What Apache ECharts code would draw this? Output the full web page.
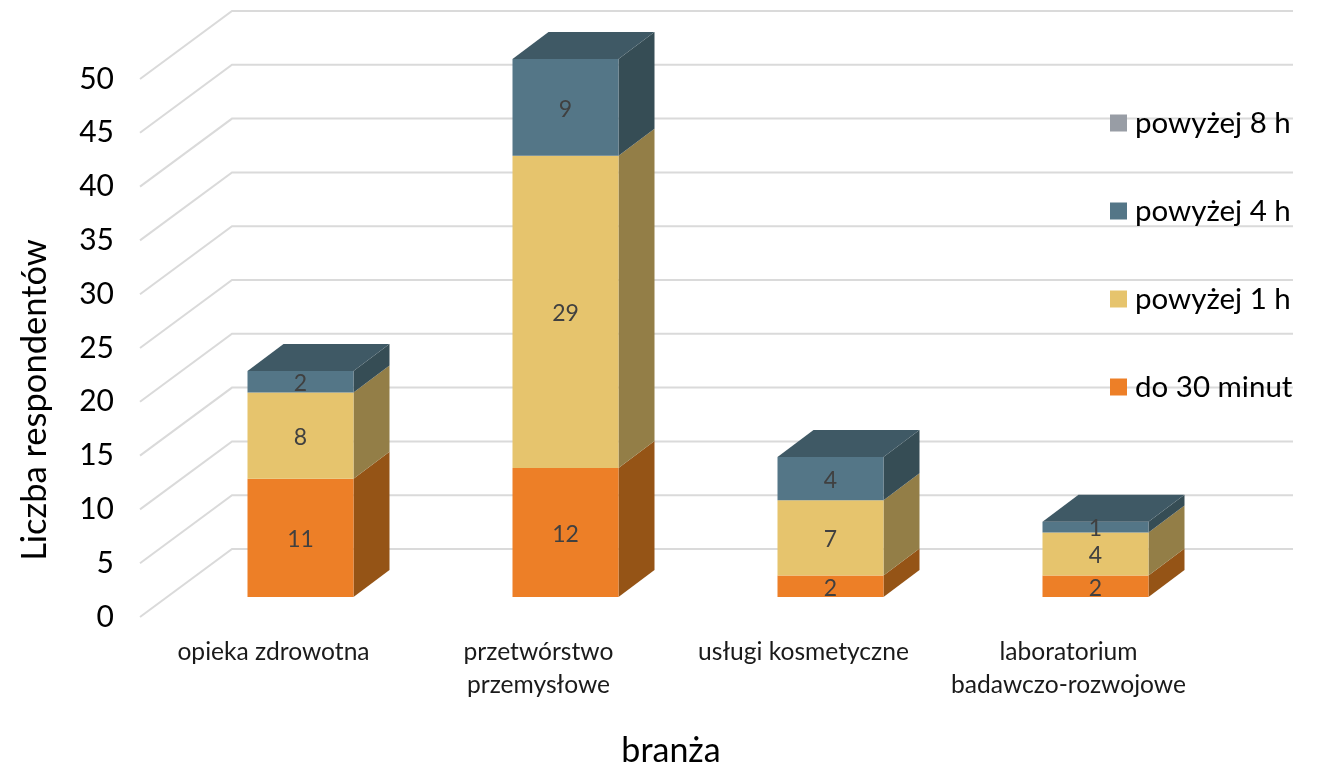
<!DOCTYPE html>
<html><head><meta charset="utf-8">
<style>html,body{margin:0;padding:0;background:#fff}#c{width:1319px;height:766px}</style>
<script src="https://cdn.jsdelivr.net/npm/echarts@6/dist/echarts.min.js"></script>
</head><body><div id="c"></div>
<script>
const categories = ['opieka zdrowotna', 'przetwórstwo\nprzemysłowe', 'usługi kosmetyczne', 'laboratorium\nbadawczo-rozwojowe'];
const seriesNames = ['do 30 minut', 'powyżej 1 h', 'powyżej 4 h', 'powyżej 8 h'];
const do30 = [11, 12, 2, 2];
const pow1 = [8, 29, 7, 4];
const pow4 = [2, 9, 4, 1];
const pow8 = [0, 0, 0, 0];
const gridTicks = [0, 5, 10, 15, 20, 25, 30, 35, 40, 45, 50];
const fontName = 'Lato';

const allValues = [do30, pow1, pow4, pow8];
const front = ['#ED7F27', '#E6C46D', '#547687', '#989DA5'];
const side = ['#955416', '#937E47', '#364D55', '#5F6368'];
const topFace = ['#B86218', '#B39850', '#3F5965', '#75797F'];

const WALL_DX = 92, WALL_DY = -68, GRID_END = 1293;
const BAR_DX = 36, BAR_DY = -27, BAR_W = 106, BAR_SHIFT_X = 27, BAR_SHIFT_Y = -20;
const LABEL_NUDGE_Y = 2;

const chart = echarts.init(document.getElementById('c'), null, {renderer: 'canvas'});

function wallItem(params, api) {
  const p = api.coord([0, api.value(0)]);
  const x0 = params.coordSys.x;
  return {
    type: 'polyline',
    shape: {points: [[x0 - 1, p[1]], [x0 - 1 + WALL_DX, p[1] + WALL_DY], [GRID_END, p[1] + WALL_DY]]},
    style: {stroke: '#DADADA', lineWidth: 2, fill: null}
  };
}

function barRender(si) {
  return function (params, api) {
    const cat = api.value(0), lo = api.value(1), hi = api.value(2);
    if (hi <= lo) return {type: 'group', children: []};
    const a = api.coord([cat, lo]), b = api.coord([cat, hi]);
    const l = a[0] + BAR_SHIFT_X - BAR_W / 2, r = l + BAR_W;
    const yb = a[1] + BAR_SHIFT_Y, yt = b[1] + BAR_SHIFT_Y;
    const isTop = allValues.slice(si + 1).every(s => s[cat] === 0);
    const children = [
      {type: 'polygon', shape: {points: [[r, yb], [r + BAR_DX, yb + BAR_DY], [r + BAR_DX, yt + BAR_DY], [r, yt]]}, style: {fill: side[si]}},
      {type: 'rect', shape: {x: l, y: yt, width: BAR_W, height: yb - yt}, style: {fill: front[si]}}
    ];
    if (isTop) children.push({type: 'polygon', shape: {points: [[l, yt], [l + BAR_DX, yt + BAR_DY], [r + BAR_DX, yt + BAR_DY], [r, yt]]}, style: {fill: topFace[si]}});
    children.push({type: 'text', z2: 10, style: {x: (l + r) / 2, y: (yb + yt) / 2 + LABEL_NUDGE_Y, text: String(hi - lo), fill: '#404040', font: '23px "' + fontName + '"', align: 'center', verticalAlign: 'middle'}});
    return {type: 'group', children};
  };
}

const barSeries = seriesNames.map((name, si) => ({
  type: 'custom', name, z: 3 + si, silent: true, animation: false,
  coordinateSystem: 'cartesian2d',
  itemStyle: {color: front[si]},
  encode: {x: 0, y: [1, 2]},
  renderItem: barRender(si),
  data: categories.map((c, i) => {
    let base = 0;
    for (let k = 0; k < si; k++) base += allValues[k][i];
    return [i, base, base + allValues[si][i]];
  })
}));

chart.setOption({
  animation: false,
  backgroundColor: '#fff',
  textStyle: {fontFamily: fontName},
  grid: {left: 141, width: 1060, top: 79, height: 538, outerBoundsMode: 'none'},
  legend: {
    orient: 'vertical', left: 1105, top: 103, icon: 'rect', itemWidth: 17, itemHeight: 17, itemGap: 58,
    data: seriesNames.slice().reverse(), selectedMode: false,
    textStyle: {fontSize: 29.5, color: '#000', fontFamily: fontName, padding: [0, 0, 0, 3]}
  },
  xAxis: {
    type: 'category', data: categories,
    axisLine: {show: false}, axisTick: {show: false}, splitLine: {show: false},
    axisLabel: {color: '#1a1a1a', fontSize: 24.6, lineHeight: 33, margin: 19, interval: 0},
    name: 'branża', nameLocation: 'middle', nameGap: 117,
    nameTextStyle: {fontSize: 34, color: '#000'}
  },
  yAxis: {
    type: 'value', min: 0, max: 50, interval: 5,
    axisLine: {show: false}, axisTick: {show: false}, splitLine: {show: false},
    axisLabel: {color: '#000', fontSize: 30, margin: 27, lineHeight: 30, padding: [10, 0, 0, 0]},
    name: 'Liczba respondentów', nameLocation: 'middle', nameGap: 89, nameRotate: 90,
    nameTextStyle: {fontSize: 34.5, color: '#000', padding: [0, 104, 0, 0]}
  },
  series: [
    {type: 'custom', silent: true, z: 1, coordinateSystem: 'cartesian2d', encode: {y: 0}, renderItem: wallItem,
     data: gridTicks.map(v => [v])},
    ...barSeries
  ]
});
</script></body></html>
